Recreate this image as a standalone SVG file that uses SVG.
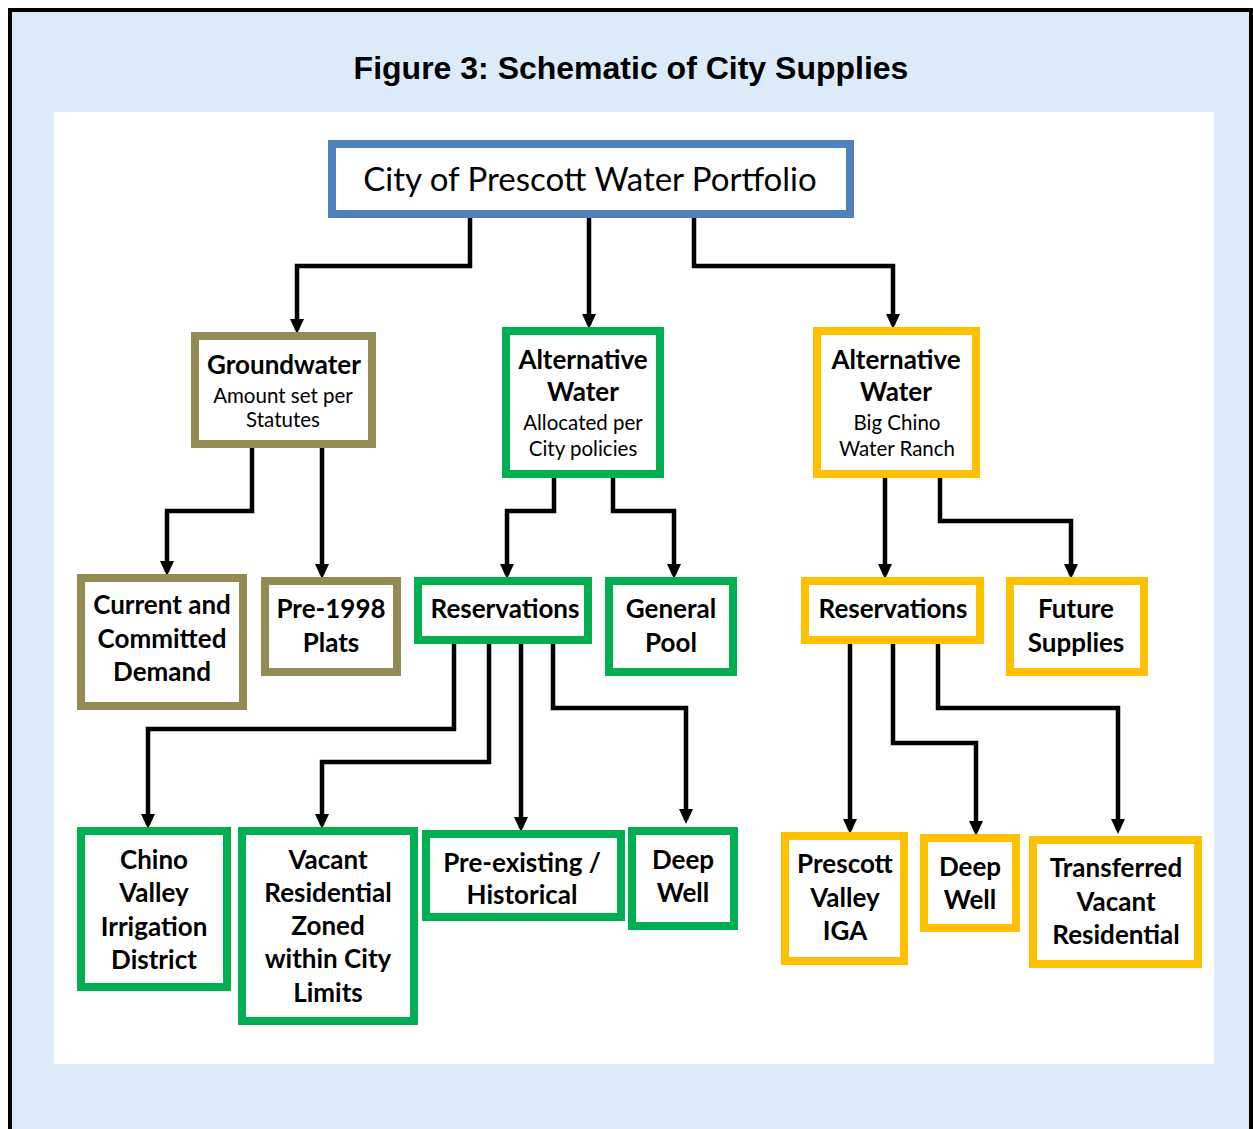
<svg xmlns="http://www.w3.org/2000/svg" width="1253" height="1129" viewBox="0 0 1253 1129">
<defs>
<marker id="arr" markerUnits="userSpaceOnUse" markerWidth="16" markerHeight="16" viewBox="0 0 16 16" refX="11" refY="8" orient="auto">
<path d="M0,1 L15,8 L0,15 Z" fill="#000"/>
</marker>
<style>
.box{fill:#fff;stroke-width:8}
.olive{stroke:#948A54}
.green{stroke:#00B050}
.yellow{stroke:#FFC000}
.blue{stroke:#4F81BD}
.t{font-family:Lato,"Open Sans","Liberation Sans",sans-serif;font-weight:bold;font-size:26px;fill:#000;text-anchor:middle}
.s{font-family:Lato,"Open Sans","Liberation Sans",sans-serif;font-size:20.5px;fill:#000;text-anchor:middle}
.c{fill:none;stroke:#000;stroke-width:4.5;marker-end:url(#arr)}
</style>
</defs>
<rect x="0" y="0" width="1253" height="1129" fill="#fff"/>
<rect x="10" y="10" width="1241" height="1125" fill="#DCEBFA"/>
<path d="M10,1129 V10 H1251 V1129" fill="none" stroke="#000" stroke-width="4"/>
<rect x="54" y="112" width="1160" height="952" fill="#fff"/>
<text x="631" y="79" font-family="'Liberation Sans',Arial,sans-serif" font-weight="bold" font-size="32" text-anchor="middle">Figure 3: Schematic of City Supplies</text>

<g id="connectors">
<path class="c" d="M470,218 V266 H297 V330"/>
<path class="c" d="M589,218 V325"/>
<path class="c" d="M694,218 V266 H893 V325"/>
<path class="c" d="M252,448 V511 H167 V572"/>
<path class="c" d="M322,448 V575"/>
<path class="c" d="M554,478 V511 H507 V575"/>
<path class="c" d="M613,478 V511 H674 V575"/>
<path class="c" d="M885,478 V575"/>
<path class="c" d="M940,478 V521 H1071 V575"/>
<path class="c" d="M454,644 V729 H148 V825"/>
<path class="c" d="M489,644 V762 H322 V825"/>
<path class="c" d="M521,644 V828"/>
<path class="c" d="M553,644 V708 H686 V820"/>
<path class="c" d="M850,644 V830"/>
<path class="c" d="M893,644 V743 H976 V832"/>
<path class="c" d="M938,644 V708 H1118 V830"/>
</g>

<g id="portfolio">
<rect class="box blue" x="332" y="144" width="518" height="70"/>
<text x="590" y="191" font-family="Lato,'Open Sans','Liberation Sans',sans-serif" font-size="33" text-anchor="middle">City of Prescott Water Portfolio</text>
</g>

<g id="groundwater">
<rect class="box olive" x="195" y="336" width="177" height="108"/>
<text class="t" x="284" y="374">Groundwater</text>
<text class="s" x="283" y="403">Amount set per</text>
<text class="s" x="283" y="427">Statutes</text>
</g>

<g id="altwater-green">
<rect class="box green" x="506" y="331" width="154" height="143"/>
<text class="t" x="583" y="369">Alternative</text>
<text class="t" x="583" y="401">Water</text>
<text class="s" x="583" y="430">Allocated per</text>
<text class="s" x="583" y="456">City policies</text>
</g>

<g id="altwater-yellow">
<rect class="box yellow" x="817" y="331" width="159" height="143"/>
<text class="t" x="896" y="369">Alternative</text>
<text class="t" x="896" y="401">Water</text>
<text class="s" x="897" y="430">Big Chino</text>
<text class="s" x="897" y="456">Water Ranch</text>
</g>

<g id="current-demand">
<rect class="box olive" x="81" y="578" width="162" height="128"/>
<text class="t" x="162" y="614">Current and</text>
<text class="t" x="162" y="648">Committed</text>
<text class="t" x="162" y="681">Demand</text>
</g>

<g id="pre1998">
<rect class="box olive" x="265" y="581" width="132" height="91"/>
<text class="t" x="331" y="618">Pre-1998</text>
<text class="t" x="331" y="652">Plats</text>
</g>

<g id="reservations-green">
<rect class="box green" x="418" y="581" width="170" height="59"/>
<text class="t" x="505" y="618">Reservations</text>
</g>

<g id="general-pool">
<rect class="box green" x="609" y="581" width="124" height="91"/>
<text class="t" x="671" y="618">General</text>
<text class="t" x="671" y="652">Pool</text>
</g>

<g id="reservations-yellow">
<rect class="box yellow" x="805" y="581" width="175" height="59"/>
<text class="t" x="893" y="618">Reservations</text>
</g>

<g id="future-supplies">
<rect class="box yellow" x="1010" y="581" width="134" height="91"/>
<text class="t" x="1076" y="618">Future</text>
<text class="t" x="1076" y="652">Supplies</text>
</g>

<g id="chino-valley">
<rect class="box green" x="81" y="831" width="146" height="156"/>
<text class="t" x="154" y="869">Chino</text>
<text class="t" x="154" y="902">Valley</text>
<text class="t" x="154" y="936">Irrigation</text>
<text class="t" x="154" y="969">District</text>
</g>

<g id="vacant-residential">
<rect class="box green" x="242" y="831" width="172" height="190"/>
<text class="t" x="328" y="869">Vacant</text>
<text class="t" x="328" y="902">Residential</text>
<text class="t" x="328" y="935">Zoned</text>
<text class="t" x="328" y="968">within City</text>
<text class="t" x="328" y="1002">Limits</text>
</g>

<g id="pre-existing">
<rect class="box green" x="426" y="834" width="195" height="83"/>
<text class="t" x="522" y="872">Pre-existing /</text>
<text class="t" x="522" y="904">Historical</text>
</g>

<g id="deep-well-green">
<rect class="box green" x="632" y="831" width="102" height="95"/>
<text class="t" x="683" y="869">Deep</text>
<text class="t" x="683" y="902">Well</text>
</g>

<g id="prescott-valley">
<rect class="box yellow" x="785" y="836" width="119" height="125"/>
<text class="t" x="845" y="873">Prescott</text>
<text class="t" x="845" y="907">Valley</text>
<text class="t" x="845" y="940">IGA</text>
</g>

<g id="deep-well-yellow">
<rect class="box yellow" x="924" y="838" width="92" height="90"/>
<text class="t" x="970" y="876">Deep</text>
<text class="t" x="970" y="909">Well</text>
</g>

<g id="transferred">
<rect class="box yellow" x="1033" y="840" width="165" height="124"/>
<text class="t" x="1116" y="877">Transferred</text>
<text class="t" x="1116" y="911">Vacant</text>
<text class="t" x="1116" y="944">Residential</text>
</g>
</svg>
